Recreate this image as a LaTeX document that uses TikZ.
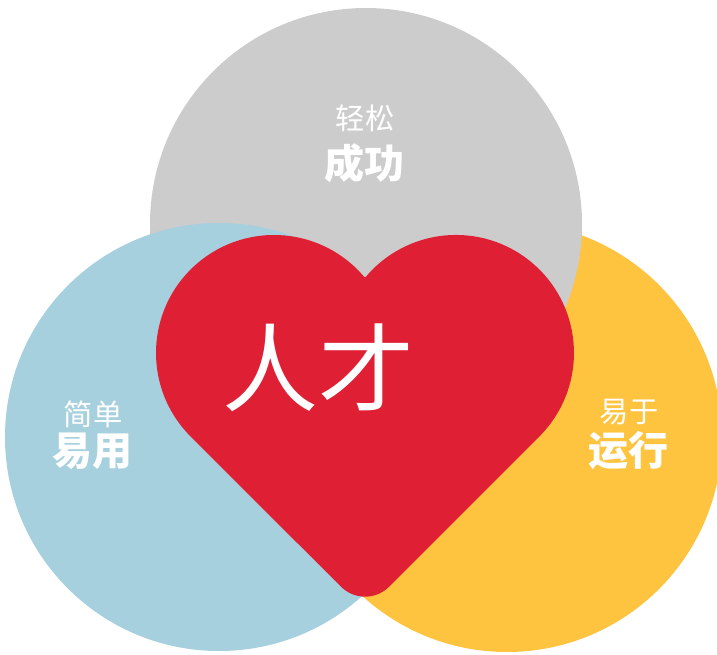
\documentclass[tikz,border=0pt]{standalone}
\usepackage{fontspec}
\newfontfamily\cjk{Noto Sans CJK SC}
\definecolor{circgray}{HTML}{CBCCCB}
\definecolor{circblue}{HTML}{A6D0DD}
\definecolor{circyellow}{HTML}{FEC440}
\definecolor{heartred}{HTML}{DF1F34}
\begin{document}
\begin{tikzpicture}[x=0.75pt,y=0.75pt,
  smalltxt/.style={inner sep=0pt,text=white,font=\cjk\fontsize{22}{24}\selectfont},
  bigtxt/.style={inner sep=0pt,text=white,font=\cjk\bfseries\fontsize{30}{32}\selectfont}]
\useasboundingbox (0,0) rectangle (717,654);
\begin{scope}
\clip (0,0) rectangle (717,654);
\fill[circyellow] (507,217) circle (215);
\fill[circgray] (366,430) circle (216);
\fill[circblue] (219,217) circle (214);
\fill[heartred] (274,301) ++(40:118) arc[start angle=40,end angle=225,radius=118]
  -- (341,67.3) arc[start angle=225,end angle=315,radius=34]
  -- (539.4,217.6) arc[start angle=-45,end angle=140,radius=118] -- cycle;
\end{scope}
\node[smalltxt] (easy) at (365,536) {轻松};
\node[bigtxt] (success) at (364,491) {成功};
\node[smalltxt] (simple) at (93,240) {简单};
\node[bigtxt] (usable) at (92,203) {易用};
\node[smalltxt] (easyto) at (629,242) {易于};
\node[bigtxt] (run) at (628,203) {运行};
\node[inner sep=0pt,text=white,font=\cjk\fontsize{72}{76}\selectfont] (talent) at (318,286) {人才};
\end{tikzpicture}
\end{document}
